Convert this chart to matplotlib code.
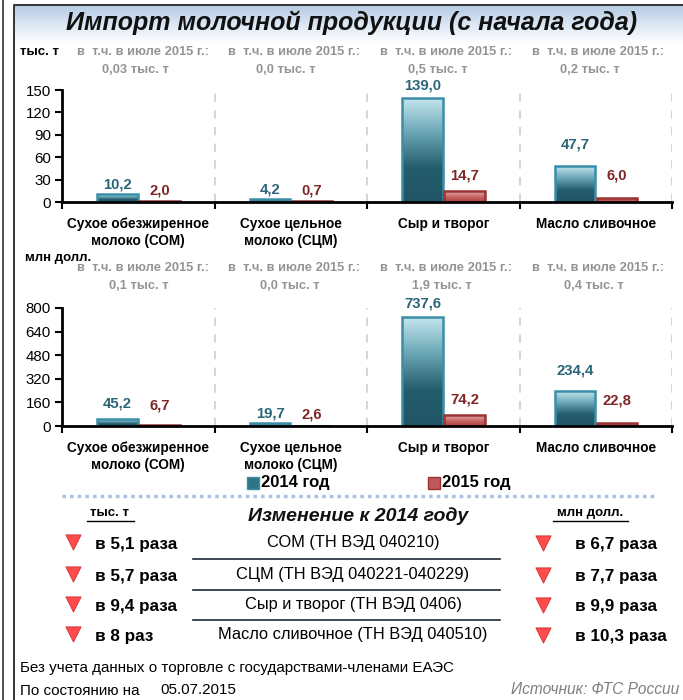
import matplotlib
matplotlib.use("Agg")
import matplotlib.pyplot as plt
import numpy as np
from matplotlib import font_manager
from matplotlib.colors import LinearSegmentedColormap
from matplotlib.patches import Rectangle

names = {f.name for f in font_manager.fontManager.ttflist}
FONT = 'Liberation Sans' if 'Liberation Sans' in names else 'DejaVu Sans'
plt.rcParams['font.family'] = [FONT, 'DejaVu Sans']

# data
categories = ['Сухое обезжиренное\nмолоко (СОМ)', 'Сухое цельное\nмолоко (СЦМ)',
              'Сыр и творог', 'Масло сливочное']
volume_2014 = [10.2, 4.2, 139.0, 47.7]
volume_2015 = [2.0, 0.7, 14.7, 6.0]
value_2014 = [45.2, 19.7, 737.6, 234.4]
value_2015 = [6.7, 2.6, 74.2, 22.8]
july_volume = ['0,03 тыс. т', '0,0 тыс. т', '0,5 тыс. т', '0,2 тыс. т']
july_value = ['0,1 тыс. т', '0,0 тыс. т', '1,9 тыс. т', '0,4 тыс. т']
volume_ticks = [0, 30, 60, 90, 120, 150]
value_ticks = [0, 160, 320, 480, 640, 800]
codes = ['СОМ (ТН ВЭД 040210)', 'СЦМ (ТН ВЭД 040221-040229)',
         'Сыр и творог (ТН ВЭД 0406)', 'Масло сливочное (ТН ВЭД 040510)']
change_volume = ['в 5,1 раза', 'в 5,7 раза', 'в 9,4 раза', 'в 8 раз']
change_value = ['в 6,7 раза', 'в 7,7 раза', 'в 9,9 раза', 'в 10,3 раза']

# label lift above bar tops (points), tuned by eye
lift_vol = ([2, 2, 4, 11], [2, 3, 6, 11])
lift_val = ([6, 2, 5, 10], [9, 3, 6, 11])

BLUE_EDGE = '#3a8fa6'
RED_EDGE = '#9a3232'
BLUE_TXT = '#2b6678'
RED_TXT = '#7f2727'
GRAY_TXT = '#949494'
blue_cmap = LinearSegmentedColormap.from_list('b', ['#1f5464', '#255d6d', '#6aa6b6', '#c4e6ee'])
red_cmap = LinearSegmentedColormap.from_list('r', ['#b03c3c', '#c86868', '#e6aaaa'])

fig = plt.figure(figsize=(6.83, 7.0), dpi=100)

# overlay in pixel coordinates for headers / table
ov = fig.add_axes([0, 0, 1, 1], zorder=0)
ov.set_xlim(0, 683)
ov.set_ylim(700, 0)
ov.axis('off')

grad = np.linspace(0, 1, 100).reshape(-1, 1)
head_cmap = LinearSegmentedColormap.from_list('h', ['#b7cbe3', '#dde8f4', '#ffffff'])
ov.imshow(grad, extent=[14, 683, 44, 6], cmap=head_cmap, aspect='auto', origin='upper', zorder=0)
ov.set_xlim(0, 683)
ov.set_ylim(700, 0)
ov.plot([3, 3], [0, 700], color='#333333', lw=1.2)
ov.plot([14, 14, 683], [700, 5, 5], color='#333333', lw=1.4)

ov.text(352, 23, 'Импорт молочной продукции (с начала года)', ha='center', va='center',
        fontsize=18, fontweight='bold', fontstyle='italic', color='#111111')


def gradient_bars(ax, bars, cmap):
    g = np.linspace(0, 1, 256).reshape(-1, 1)
    for b in bars:
        x0, w, h = b.get_x(), b.get_width(), b.get_height()
        im = ax.imshow(g, extent=[x0, x0 + w, 0, h], origin='lower', cmap=cmap,
                       aspect='auto', zorder=1.5)
        im.set_clip_path(b)
        b.set_facecolor('none')


def bar_chart(rect, a, b, ticks, lifts):
    ax = fig.add_axes(rect, zorder=2)
    ax.patch.set_alpha(0)
    x = np.arange(len(categories))
    w = 0.265
    b1 = ax.bar(x - 0.135, a, w, edgecolor=BLUE_EDGE, linewidth=1.8, zorder=2)
    b2 = ax.bar(x + 0.14, b, w, edgecolor=RED_EDGE, linewidth=1.8, zorder=2)
    gradient_bars(ax, b1, blue_cmap)
    gradient_bars(ax, b2, red_cmap)
    for i in range(len(x)):
        ax.annotate(f'{a[i]:.1f}'.replace('.', ','), (x[i] - 0.135, a[i]), xytext=(0, lifts[0][i]),
                    textcoords='offset points', ha='center', va='bottom', fontsize=10.7,
                    fontweight='bold', color=BLUE_TXT)
        ax.annotate(f'{b[i]:.1f}'.replace('.', ','), (x[i] + 0.14, b[i]), xytext=(0, lifts[1][i]),
                    textcoords='offset points', ha='center', va='bottom', fontsize=10.7,
                    fontweight='bold', color=RED_TXT)
    ax.vlines([0.5, 1.5, 2.5, 3.5], 0, ticks[-1], colors='#d6d6d6', linestyles=(0, (4, 4)),
              linewidth=1.5, zorder=1)
    ax.set_xlim(-0.5, 3.5)
    ax.set_ylim(0, ticks[-1])
    ax.set_yticks(ticks)
    ax.set_xticks(x)
    ax.set_xticklabels(categories, fontsize=9.8, fontweight='bold', linespacing=1.25)
    ax.set_xticks([-0.5, 0.5, 1.5, 2.5, 3.5], minor=True)
    ax.tick_params(axis='x', which='major', length=0, pad=11)
    ax.tick_params(axis='x', which='minor', length=5, width=1.5, direction='out')
    ax.tick_params(axis='y', length=5, width=1.5, direction='out', labelsize=10.8, pad=3)
    for s in ['top', 'right']:
        ax.spines[s].set_visible(False)
    for s in ['left', 'bottom']:
        ax.spines[s].set_linewidth(2)
    return ax


bar_chart([62 / 683, 1 - 202 / 700, 610 / 683, 112 / 700], volume_2014, volume_2015,
          volume_ticks, lift_vol)
bar_chart([62 / 683, 1 - 426 / 700, 610 / 683, 118 / 700], value_2014, value_2015,
          value_ticks, lift_val)

# unit labels and july notes
ov.text(20, 52, 'тыс. т', fontsize=9.5, fontweight='bold', va='center')
ov.text(25, 258, 'млн долл.', fontsize=9.5, fontweight='bold', va='center')
centers = [143, 294, 446, 598]
for i, c in enumerate(centers):
    ov.text(c, 52, 'в  т.ч. в июле 2015 г.:', ha='center', va='center', fontsize=9.3,
            fontweight='bold', color=GRAY_TXT)
    ov.text(c - 8, 70, july_volume[i], ha='center', va='center', fontsize=9.3,
            fontweight='bold', color=GRAY_TXT)
    ov.text(c, 268, 'в  т.ч. в июле 2015 г.:', ha='center', va='center', fontsize=9.3,
            fontweight='bold', color=GRAY_TXT)
    ov.text(c - 4, 286, july_value[i], ha='center', va='center', fontsize=9.3,
            fontweight='bold', color=GRAY_TXT)

# legend
ov.add_patch(Rectangle((247, 477), 12, 12, facecolor='#2f7487', edgecolor=BLUE_EDGE, lw=1))
ov.add_patch(Rectangle((428, 477), 12, 12, facecolor='#c05a5a', edgecolor=RED_EDGE, lw=1))
ov.text(261, 483, '2014 год', fontsize=12, fontweight='bold', va='center')
ov.text(442, 483, '2015 год', fontsize=12, fontweight='bold', va='center')

ov.plot([62, 657], [496, 496], color='#a9c1e2', lw=2.5, linestyle=(0, (1, 1.2)))

# change table
ov.text(110, 513, 'тыс. т', ha='center', va='center', fontsize=9.5, fontweight='bold')
ov.plot([87, 134], [521, 521], color='black', lw=1)
ov.text(590, 513, 'млн долл.', ha='center', va='center', fontsize=9.5, fontweight='bold')
ov.plot([553, 628], [521, 521], color='black', lw=1)
ov.text(358, 516, 'Изменение к 2014 году', ha='center', va='center', fontsize=14,
        fontweight='bold', fontstyle='italic', color='#111111')

rows = [545, 577, 607, 637]
for i, y in enumerate(rows):
    ov.scatter([73], [y - 3], marker='v', s=120, color='#ff4b4b', edgecolor='#d03030',
               linewidth=0.6, zorder=3)
    ov.text(95, y, change_volume[i], va='center', fontsize=12.3, fontweight='bold')
    ov.scatter([543], [y - 2], marker='v', s=120, color='#ff4b4b', edgecolor='#d03030',
               linewidth=0.6, zorder=3)
    ov.text(575, y, change_value[i], va='center', fontsize=12.3, fontweight='bold')
    ov.text(353, y - 2, codes[i], ha='center', va='center', fontsize=11.8)
for y in [559, 590, 620]:
    ov.plot([193, 500], [y, y], color='#1c2836', lw=1.2)

# footer
ov.text(20, 668, 'Без учета данных о торговле с государствами-членами ЕАЭС', va='center',
        fontsize=10.9)
ov.text(20, 691, 'По состоянию на', va='center', fontsize=10.9)
ov.text(160, 690, '05.07.2015', va='center', fontsize=10.9)
ov.text(679, 690, 'Источник: ФТС России', ha='right', va='center', fontsize=11.2,
        fontstyle='italic', color='#808080')

fig.savefig('out.png', dpi=100)
